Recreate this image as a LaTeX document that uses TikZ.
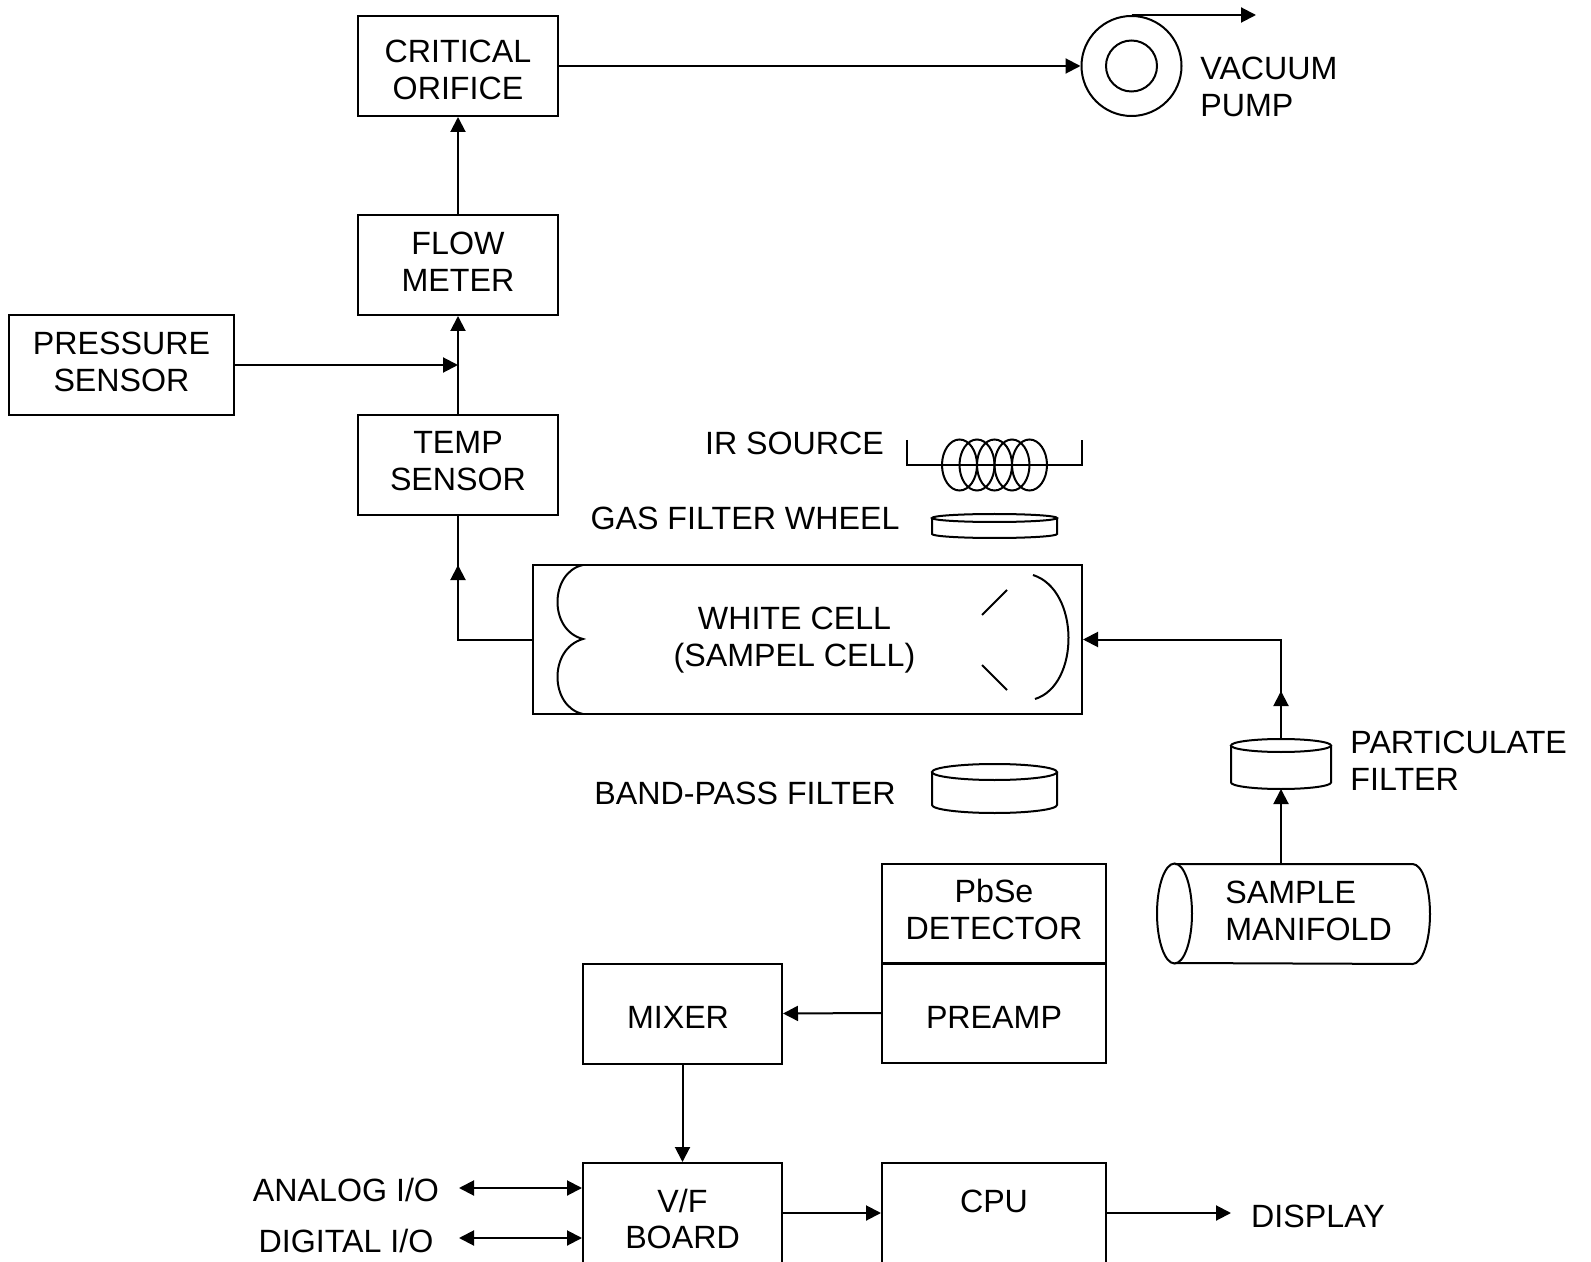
\documentclass[tikz,border=0pt]{standalone}
\usepackage{fontspec}
\setmainfont{Liberation Sans}
\usetikzlibrary{arrows.meta}
\tikzset{
  blockbox/.style={draw, line width=1pt, inner sep=0pt, minimum width=100pt, minimum height=50pt},
  tagtext/.style={inner sep=0pt, align=center},
  sidetext/.style={inner sep=0pt, align=left, anchor=west},
  flowline/.style={line width=1pt, -{Triangle[length=7.5pt,width=7.5pt]}},
  dualline/.style={line width=1pt, {Triangle[length=7.5pt,width=7.5pt]}-{Triangle[length=7.5pt,width=7.5pt]}},
  plainline/.style={line width=1pt},
  discbox/.style={inner sep=0pt, outer sep=0pt}
}
% Flat disc: node name, half width, cap radius
\newcommand{\drawdisc}[3]{
  \draw[plainline] (#1.north) ++(0,#3) ellipse (#2 and #3);
  \path (#1.north west) ++(0,#3) coordinate (#1topl);
  \path (#1.north east) ++(0,#3) coordinate (#1topr);
  \path (#1.south west) ++(0,-#3) coordinate (#1botl);
  \path (#1.south east) ++(0,-#3) coordinate (#1botr);
  \draw[plainline] (#1topl) -- (#1botl) arc[start angle=180, end angle=0, x radius=#2, y radius=#3] -- (#1topr);
}
\begin{document}
\begin{tikzpicture}[x=0.5pt, y=-0.5pt, font=\fontsize{16.1}{18.25}\selectfont]
    \useasboundingbox (0,0) rectangle (1591,1262);

    % Gas path blocks
    \node[blockbox] (orifice) at (458,66) {};
    \node[tagtext] (orificetext) at (458,70) {CRITICAL\\ORIFICE};
    \node[blockbox] (flowmeter) at (458,265) {};
    \node[tagtext] (flowtext) at (458,262) {FLOW\\METER};
    \node[blockbox] (tempsensor) at (458,465) {};
    \node[tagtext] (temptext) at (458,461) {TEMP\\SENSOR};
    \node[blockbox, minimum width=112.5pt] (pressure) at (121.5,365) {};
    \node[tagtext] (pressuretext) at (121.5,362) {PRESSURE\\SENSOR};

    % Vacuum pump
    \node[draw, plainline, circle, inner sep=0pt, minimum size=50pt] (pump) at (1131.5,66) {};
    \node[draw, plainline, circle, inner sep=0pt, minimum size=25.5pt] (pumpcore) at (pump.center) {};
    \node[sidetext] (pumptext) at (1200,87) {VACUUM\\PUMP};
    \coordinate (pumpout) at (1256,16);

    % IR source: bracket and coil
    \coordinate (bracketleft) at (907,440);
    \coordinate (bracketright) at (1082,440);
    \draw[plainline] (bracketleft) -- (907,465) -- (1082,465) -- (bracketright);
    \foreach \coilx in {959.5,977,994.5,1012,1029.5}
      \draw[plainline] (\coilx,465) ellipse (17.5 and 25.5);
    \node[tagtext] (irtext) at (794.5,443) {IR SOURCE};

    % Gas filter wheel and band-pass filter
    \node[discbox, minimum width=62.5pt, minimum height=12pt] (wheel) at (994.5,526) {};
    \drawdisc{wheel}{62.5}{4}
    \node[tagtext] (wheeltext) at (745,518) {GAS FILTER WHEEL};
    \node[discbox, minimum width=62.5pt, minimum height=24.5pt] (bandpass) at (994.5,788.5) {};
    \drawdisc{bandpass}{62.5}{8}
    \node[tagtext] (bandtext) at (745,793) {BAND-PASS FILTER};

    % White cell with its mirrors
    \node[blockbox, minimum width=274.5pt, minimum height=74.5pt] (whitecell) at (807.5,639.5) {};
    \node[tagtext] (celltext) at (794.5,640) {WHITE CELL\\(SAMPEL CELL)};
    \draw[plainline] (583,565) .. controls (550,572) and (548,630) .. (583,639)
                               .. controls (548,649) and (550,707) .. (583,714);
    \draw[plainline] (1033,575) .. controls (1080,590) and (1080,685) .. (1035,699);
    \draw[plainline] (982,615) -- (1007,590);
    \draw[plainline] (982,665) -- (1007,690);

    % Sample inlet
    \node[discbox, minimum width=50pt, minimum height=25pt] (partfilter) at (1281,764) {};
    \drawdisc{partfilter}{50}{6.5}
    \node[sidetext] (parttext) at (1350,761) {PARTICULATE\\FILTER};
    \node[discbox, minimum width=136.5pt, minimum height=50pt] (manifold) at (1293.5,913.5) {};
    \draw[plainline] (1174.5,913.5) ellipse (17.5 and 50);
    \draw[plainline] (1174.5,864) -- (1412.5,864) arc[start angle=-90, end angle=90, x radius=17.5, y radius=50] -- (1174.5,963);
    \node[sidetext] (manifoldtext) at (1225,911) {SAMPLE\\MANIFOLD};

    % Electronics
    \node[blockbox, minimum width=112pt] (detector) at (994,913.5) {};
    \node[tagtext] (detectortext) at (994,909.5) {PbSe\\DETECTOR};
    \node[blockbox, minimum width=112pt] (preamp) at (994,1013) {};
    \node[tagtext] (preamptext) at (994,1017) {PREAMP};
    \node[blockbox, minimum width=99.5pt] (mixerbox) at (682.5,1013.5) {};
    \node[tagtext] (mixertext) at (678,1017) {MIXER};
    \node[blockbox, minimum width=99.5pt] (vfboard) at (682.5,1213) {};
    \node[tagtext] (vftext) at (682.5,1219) {V/F\\BOARD};
    \node[blockbox, minimum width=112pt] (cpu) at (994,1213) {};
    \node[tagtext] (cputext) at (994,1201) {CPU};
    \node[tagtext] (displaytext) at (1318,1216) {DISPLAY};
    \node[tagtext] (analogtext) at (346,1190) {ANALOG I/O};
    \node[tagtext] (digitaltext) at (346,1241) {DIGITAL I/O};

    % Free arrow ends
    \coordinate (analogend) at (459,1188);
    \coordinate (digitalend) at (459,1238);
    \coordinate (displayend) at (1231,1213);
    \coordinate (gasjoin) at (458,365);
    \coordinate (cellturn) at (458,565);
    \coordinate (inletturn) at (1281,691);

    % Gas connectors
    \draw[flowline] (orifice.east) -- (pump.west);
    \draw[flowline] (pump.north) -- (pump.north -| pumpout);
    \draw[flowline] (flowmeter.north) -- (orifice.south);
    \draw[flowline] (tempsensor.north) -- (flowmeter.south);
    \draw[flowline] (pressure.east) -- (gasjoin);
    \draw[plainline] (whitecell.west) -| (tempsensor.south);
    \draw[flowline] (whitecell.west -| cellturn) -- (cellturn);
    \draw[flowline] (partfilter.north) |- (whitecell.east);
    \draw[flowline] (partfilter.north) -- (inletturn);
    \draw[flowline] (manifold.north -| partfilter.south) -- (partfilter.south);

    % Signal connectors
    \draw[flowline] (preamp.west) -- (mixerbox.east);
    \draw[flowline] (mixerbox.south) -- (vfboard.north);
    \draw[flowline] (vfboard.east) -- (cpu.west);
    \draw[flowline] (cpu.east) -- (displayend);
    \draw[dualline] (analogend) -- (analogend -| vfboard.west);
    \draw[dualline] (digitalend) -- (digitalend -| vfboard.west);
\end{tikzpicture}
\end{document}
